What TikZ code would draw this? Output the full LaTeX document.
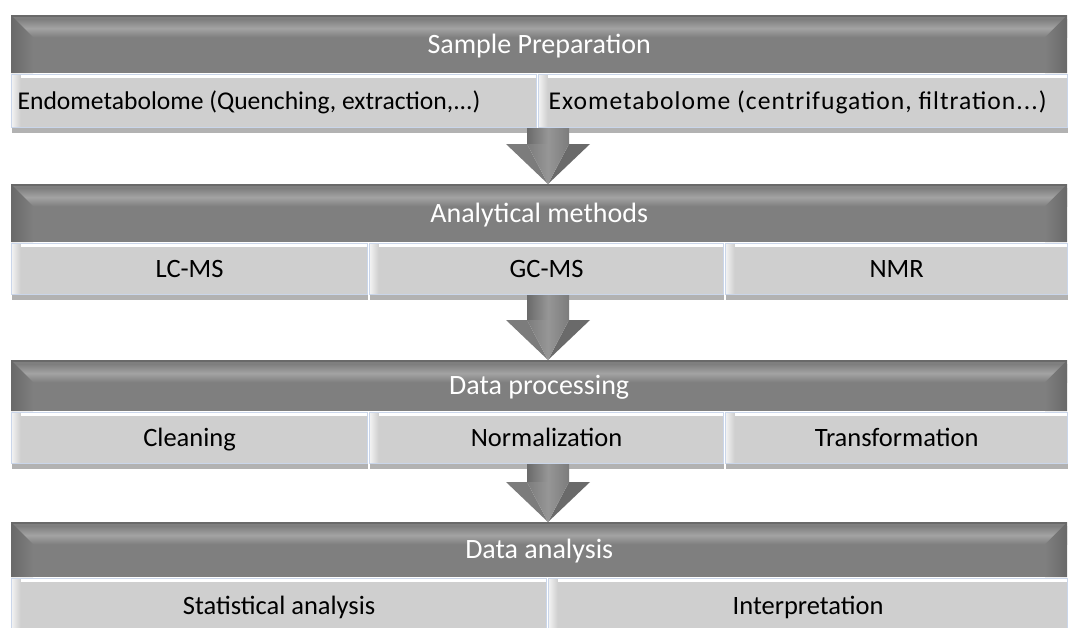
\documentclass[tikz,border=0pt]{standalone}
\usepackage{fontspec}
\setmainfont{Carlito}
\usetikzlibrary{positioning,shadows}

\definecolor{hdrgray}{HTML}{7F7F7F}
\definecolor{hdrlight}{HTML}{A3A3A3}
\definecolor{hdrdark}{HTML}{696969}
\definecolor{cellgray}{HTML}{CFCFCF}
\definecolor{cellrim}{HTML}{CAD6EA}
\definecolor{arrdark}{HTML}{6A6A6A}
\definecolor{arrmid}{HTML}{7C7C7C}
\definecolor{arrlight}{HTML}{969696}

% block arrow from a row of cells down to the next header
\newcommand{\stagearrow}[2]{%
  \coordinate (top) at (#1.south -| axis);
  \coordinate (tip) at (#2.north -| axis);
  \coordinate (hb) at ([yshift=40pt]tip);
  \shade[left color=arrdark, right color=arrmid, middle color=arrlight]
    ([xshift=-21pt]top) rectangle ([xshift=21pt]hb);
  \fill[arrmid] ([xshift=-42pt]hb) -- ([xshift=-21pt]hb) -- (tip) -- cycle;
  \fill[arrdark] ([xshift=21pt]hb) -- ([xshift=42pt]hb) -- (tip) -- cycle;
  \shade[left color=arrmid, right color=arrmid, middle color=arrlight]
    ([xshift=-21pt]hb) -- ([xshift=21pt]hb) -- (tip) -- cycle;
}

\tikzset{
  hdr/.style={fill=hdrgray, text=white, inner sep=0pt, anchor=north west,
    minimum width=1056pt, font=\fontsize{28}{32}\selectfont,
    text height=22pt, text depth=4pt,
    path picture={
      \coordinate (nw) at (path picture bounding box.north west);
      \coordinate (ne) at (path picture bounding box.north east);
      \coordinate (sw) at (path picture bounding box.south west);
      \coordinate (se) at (path picture bounding box.south east);
      \shade[top color=hdrgray, bottom color=hdrgray, middle color=hdrlight]
        ([yshift=-4pt]nw) rectangle ([yshift=-22pt]ne);
      \shade[left color=hdrdark, right color=hdrgray]
        (nw) -- ([shift={(22pt,-22pt)}]nw) -- ([xshift=22pt]sw) -- (sw) -- cycle;
      \shade[left color=hdrgray, right color=hdrdark]
        (ne) -- ([shift={(-22pt,-22pt)}]ne) -- ([xshift=-22pt]se) -- (se) -- cycle;
      \draw[hdrdark, line width=3pt] (nw) -- (ne);
    }},
  cell/.style={fill=cellgray, draw=cellrim, line width=1.2pt, inner sep=0pt,
    anchor=north west, font=\fontsize{26.5}{30}\selectfont,
    text height=20pt, text depth=4pt,
    drop shadow={shadow xshift=0pt, shadow yshift=-5pt, fill=black!50, opacity=0.6},
    path picture={
      \coordinate (nw) at (path picture bounding box.north west);
      \coordinate (ne) at (path picture bounding box.north east);
      \coordinate (sw) at (path picture bounding box.south west);
      \draw[white, line width=6pt] (nw) -- (ne);
      \shade[left color=white!75!cellgray, right color=cellgray]
        (nw) rectangle ([xshift=9pt]sw);
    }},
  leftcell/.style={cell, align=flush left, font=\fontsize{25.6}{30}\selectfont},
}

\begin{document}
\begin{tikzpicture}[x=1pt, y=-1pt]
  \useasboundingbox[fill=white] (0,0) rectangle (1070,627);
  \coordinate (axis) at (548,0);

  % sample preparation
  \node[hdr, minimum height=58pt] (prep) at (11,15) {Sample Preparation};
  \node[leftcell, inner xsep=6pt, text width=513pt, minimum height=53pt] (endo) at (11,74) {Endometabolome (Quenching, extraction,...)};
  \node[leftcell, inner xsep=10pt, text width=509pt, minimum height=53pt] (exo) at (538,74) {\addfontfeature{LetterSpace=4}Exometabolome (centrifugation, filtration...)};

  % analytical methods
  \node[hdr, minimum height=58pt] (anl) at (11,184) {Analytical methods};
  \node[cell, minimum width=356pt, minimum height=51pt] (lcms) at (11,243) {LC-MS};
  \node[cell, minimum width=354pt, minimum height=51pt] (gcms) at (369,243) {GC-MS};
  \node[cell, minimum width=342pt, minimum height=51pt] (nmr) at (725,243) {NMR};

  % data processing
  \node[hdr, minimum height=51pt] (proc) at (11,360) {Data processing};
  \node[cell, minimum width=356pt, minimum height=51pt] (clean) at (11,412) {Cleaning};
  \node[cell, minimum width=354pt, minimum height=51pt] (norm) at (369,412) {Normalization};
  \node[cell, minimum width=342pt, minimum height=51pt] (trans) at (725,412) {Transformation};

  % data analysis
  \node[hdr, minimum height=55pt] (ana) at (11,522) {Data analysis};
  \node[cell, minimum width=535pt, minimum height=55pt] (stat) at (11,578) {Statistical analysis};
  \node[cell, minimum width=519pt, minimum height=55pt] (interp) at (548,578) {Interpretation};

  \stagearrow{endo}{anl}
  \stagearrow{lcms}{proc}
  \stagearrow{clean}{ana}
\end{tikzpicture}
\end{document}
